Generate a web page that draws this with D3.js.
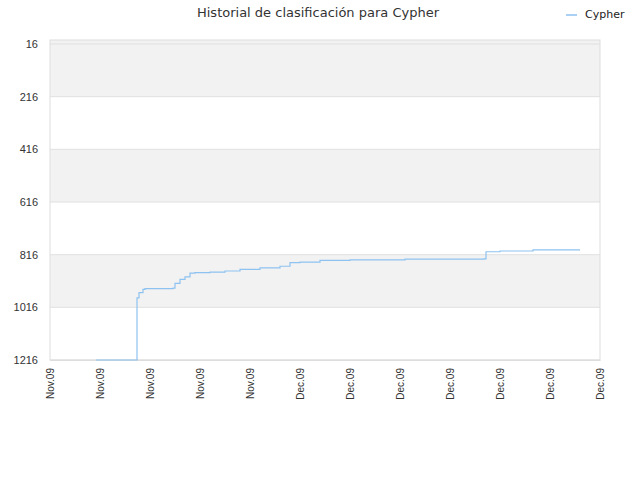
<!DOCTYPE html>
<html><head><meta charset="utf-8">
<script src="https://cdn.jsdelivr.net/npm/d3@7"></script>
<style>body{margin:0;background:#fff;font-family:"DejaVu Sans",sans-serif}</style>
</head><body><svg id="c" width="640" height="480"></svg>
<script>
const title = "Historial de clasificación para Cypher";
const seriesName = "Cypher";
const tickLabels = ["Nov.09","Nov.09","Nov.09","Nov.09","Nov.09","Dec.09","Dec.09","Dec.09","Dec.09","Dec.09","Dec.09","Dec.09"];
const yTicks = [16, 216, 416, 616, 816, 1016, 1216];
// position along x in tick units, rank value
const pos = [0.92, 1.74, 1.78, 1.86, 1.9, 2.0, 2.2, 2.46, 2.5, 2.6, 2.7, 2.8, 2.8, 2.9, 3.2, 3.5, 3.8, 4.2, 4.6, 4.8, 4.8, 5.0, 5.4, 6.0, 7.1, 8.68, 8.72, 9.0, 9.66, 10.6];
const rank = [1216, 980, 960, 948, 945, 945, 945, 943, 925, 910, 900, 900, 886, 884, 882, 878, 872, 866, 860, 856, 846, 844, 838, 836, 833, 832, 805, 802, 798, 798];

const svg = d3.select("#c");
const m = {l: 50, r: 600, t: 40, b: 360};
const x = d3.scaleLinear().domain([0, 11]).range([m.l, m.r]);
const y = d3.scaleLinear().domain([16, 1216]).range([44, m.b]);

for (let i = 0; i < yTicks.length - 1; i += 2) {
  const top = i === 0 ? m.t : y(yTicks[i]);
  svg.append("rect").attr("x", m.l).attr("width", m.r - m.l)
    .attr("y", top).attr("height", y(yTicks[i + 1]) - top).attr("fill", "#f2f2f2");
}
yTicks.forEach(v => svg.append("line").attr("x1", m.l).attr("x2", m.r).attr("y1", y(v)).attr("y2", y(v)).attr("stroke", "#e0e0e0"));
svg.append("rect").attr("x", m.l).attr("y", m.t).attr("width", m.r - m.l).attr("height", m.b - m.t)
  .attr("fill", "none").attr("stroke", "#ddd");

svg.append("g").attr("transform", `translate(${m.l},0)`)
  .call(d3.axisLeft(y).tickValues(yTicks).tickFormat(d3.format("d")).tickSize(0).tickPadding(12))
  .call(g => g.select(".domain").remove())
  .selectAll("text").attr("font-size", 11).attr("fill", "#333");

const xa = svg.append("g").attr("transform", `translate(0,${m.b})`)
  .call(d3.axisBottom(x).tickValues(d3.range(12)).tickFormat(i => tickLabels[i]).tickSize(0));
xa.select(".domain").attr("stroke", "#ddd");
xa.selectAll("text").attr("font-size", 10).attr("fill", "#333")
  .attr("transform", "rotate(-90)").attr("text-anchor", "end").attr("dx", "-0.8em").attr("dy", "0.35em").attr("x", 0).attr("y", 0);

const data = pos.map((p, i) => [p, rank[i]]);
svg.append("path").datum(data).attr("fill", "none").attr("stroke", "#8ec2f0").attr("stroke-width", 1.2)
  .attr("d", d3.line().x(d => x(d[0])).y(d => y(d[1])).curve(d3.curveStepAfter));

svg.append("text").attr("x", 318).attr("y", 17).attr("text-anchor", "middle").attr("font-size", 13).attr("fill", "#333").text(title);
svg.append("line").attr("x1", 566).attr("x2", 577).attr("y1", 15).attr("y2", 15).attr("stroke", "#8ec2f0").attr("stroke-width", 1.5);
svg.append("text").attr("x", 585).attr("y", 18).attr("font-size", 11).attr("fill", "#222").text(seriesName);
</script></body></html>
